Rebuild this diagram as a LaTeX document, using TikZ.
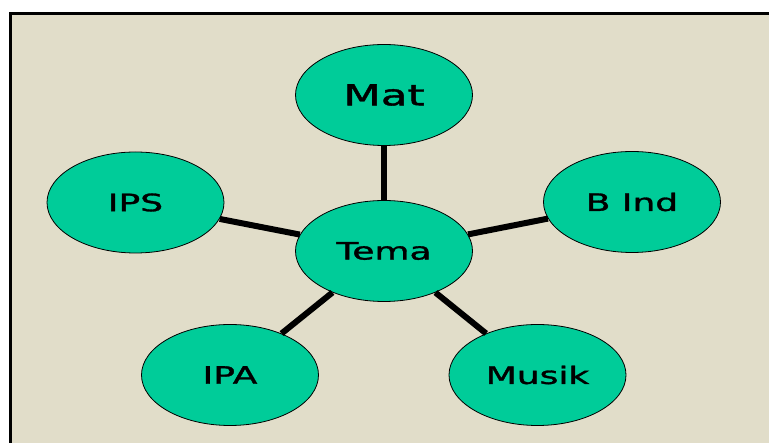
\documentclass[tikz,border=0pt]{standalone}
\usepackage{fontspec}
\setmainfont{DejaVu Sans}
\newfontfamily\topicfont[FakeBold=1.2]{DejaVu Sans}
\usepackage{graphicx}
\usetikzlibrary{shapes.geometric}
\definecolor{topicgreen}{RGB}{0,204,153}
\definecolor{paper}{RGB}{225,221,201}
\newcommand{\wide}[1]{\scalebox{1.5}[1]{#1}}

\begin{document}
\begin{tikzpicture}[
    x=1pt, y=-1pt,
    topic/.style={draw, ellipse, fill=topicgreen, line width=0.8pt, inner sep=0pt,
      minimum width=177pt, minimum height=101pt, font=\topicfont\fontsize{24}{28}\selectfont},
    link/.style={line width=6pt}
  ]
    \useasboundingbox (0,0) rectangle (769,443);
    % background and frame
    \fill[paper] (11,14) rectangle (769,443);
    \draw[line width=2.5pt] (10.5,443) -- (10.5,13.5) -- (769,13.5);

    \node[topic] (tema) at (384,251) {\wide{Tema}};
    \node[topic, font=\topicfont\fontsize{29}{34}\selectfont] (mat) at (384,95) {\wide{Mat}};
    \node[topic] (ips) at (135.5,202.5) {\wide{IPS}};
    \node[topic] (bind) at (632,202) {\wide{B Ind}};
    \node[topic] (ipa) at (230,375) {\wide{IPA}};
    \node[topic] (musik) at (537.5,375) {\wide{Musik}};

    \foreach \n in {mat,ips,bind,ipa,musik}
      \draw[link] (tema) -- (\n);
  \end{tikzpicture}
\end{document}
